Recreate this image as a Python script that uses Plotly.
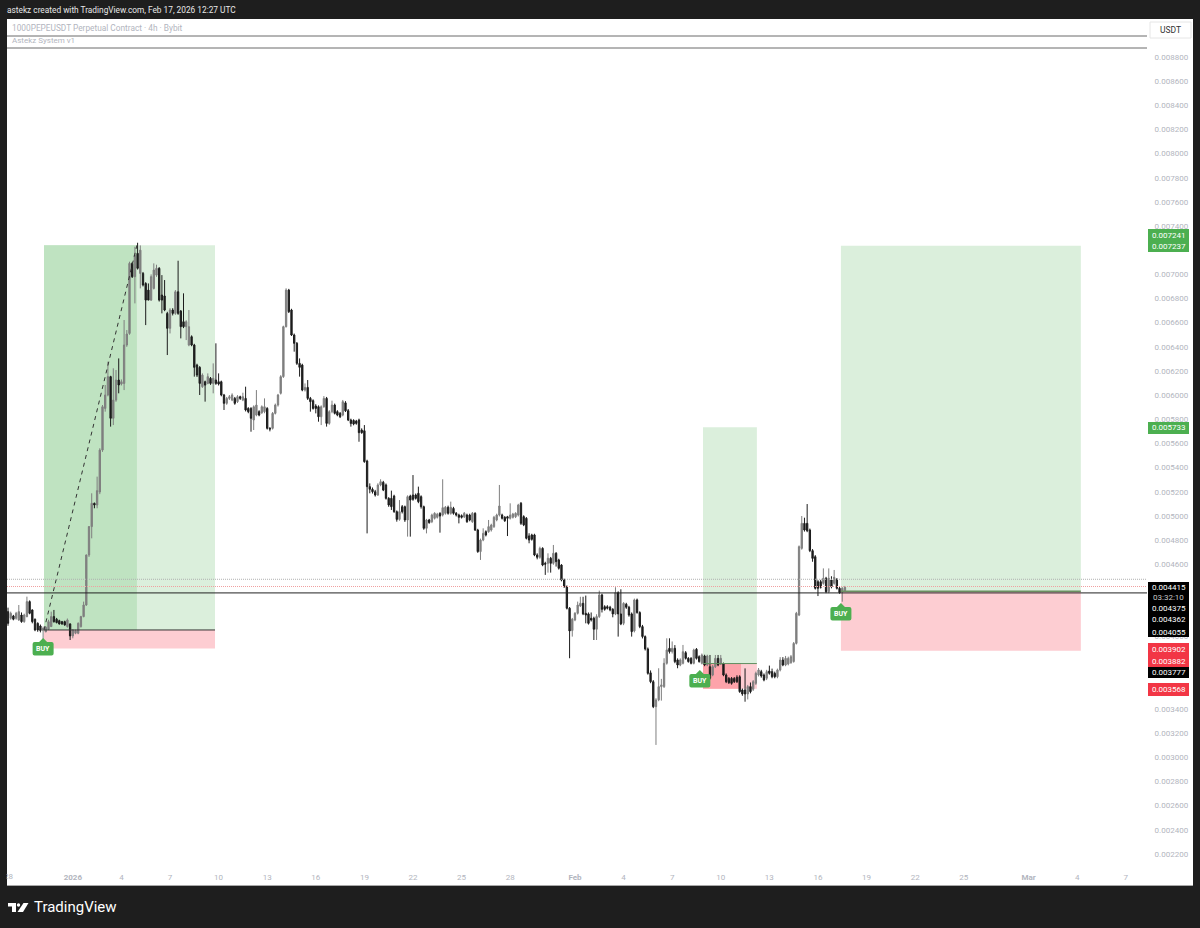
import pandas as pd
import plotly.graph_objects as go

# candle values, in millionths of USDT, 4h bars from 2025-12-28 00:00
opens = [
    4207, 4152, 4171, 4152, 4138, 4179, 4124, 4166, 4290, 4221,
    4144, 4110, 4088, 4050, 4041, 4061, 4083, 4166, 4144, 4132,
    4124, 4124, 4083, 4105, 4006, 4028, 4028, 4083, 4166, 4262,
    4676, 4911, 5104, 5090, 5198, 5545, 5890, 6001, 6153, 5808,
    5959, 6125, 6092, 6097, 6415, 6511, 7091, 6981, 7174, 7008,
    7008, 6925, 6870, 6787, 6884, 6994, 7050, 6829, 6821, 6677,
    6553, 6705, 6677, 6856, 6696, 6608, 6567, 6415, 6484, 6415,
    6249, 6230, 6070, 6111, 6097, 6139, 6097, 6125, 6111, 6111,
    6001, 5932, 5973, 5959, 5973, 5946, 5987, 5959, 5973, 5890,
    5890, 5794, 5835, 5863, 5854, 5863, 5890, 5725, 5725, 5849,
    5918, 6015, 6153, 6567, 6870, 6705, 6498, 6429, 6263, 6249,
    6042, 6064, 5973, 5954, 5910, 5904, 5821, 5904, 5973, 5766,
    5863, 5918, 5863, 5849, 5835, 5936, 5871, 5794, 5790, 5785,
    5794, 5711, 5705, 5454, 5242, 5220, 5200, 5173, 5256, 5278,
    5256, 5145, 5145, 5164, 5035, 4971, 5076, 5076, 4966, 5164,
    5173, 5173, 5187, 5159, 5076, 4897, 4966, 4952, 4980, 4988,
    5021, 5007, 5021, 5071, 5021, 5062, 5021, 5007, 5002, 4993,
    5007, 5007, 4952, 5021, 4883, 4704, 4800, 4869, 4869, 4883,
    4911, 4966, 5007, 5007, 4988, 4993, 4980, 4988, 4993, 5007,
    5104, 4994, 4980, 4834, 4842, 4842, 4676, 4657, 4731, 4607,
    4607, 4649, 4607, 4690, 4635, 4593, 4469, 4414, 4235, 4050,
    4138, 4193, 4254, 4276, 4193, 4188, 4152, 4152, 4061, 4166,
    4345, 4248, 4248, 4243, 4226, 4188, 4364, 4188, 4110, 4268,
    4243, 4188, 4047, 4304, 4199, 4083, 4000, 3898, 3700, 3627,
    3420, 3476, 3586, 3586, 3779, 3903, 3876, 3903, 3807, 3765,
    3779, 3867, 3820, 3820, 3779, 3895, 3834, 3779, 3840, 3765,
    3751, 3682, 3751, 3820, 3773, 3773, 3682, 3654, 3654, 3654,
    3663, 3668, 3558, 3558, 3525, 3586, 3564, 3613, 3682, 3710,
    3682, 3655, 3715, 3710, 3696, 3668, 3724, 3806, 3765, 3773,
    3784, 3793, 3944, 4179, 4731, 4938, 4938, 4883, 4712, 4662,
    4455, 4455, 4441, 4483, 4372, 4469, 4441, 4474, 4400, 4372, 4380,
]
highs = [
    4240, 4207, 4180, 4205, 4262, 4200, 4190, 4331, 4300, 4225,
    4150, 4118, 4100, 4083, 4085, 4140, 4207, 4221, 4155, 4140,
    4130, 4132, 4150, 4110, 4060, 4058, 4118, 4172, 4290, 4680,
    4915, 5187, 5110, 5325, 5560, 5918, 6084, 6277, 6160, 6222,
    6208, 6304, 6130, 6622, 6539, 7105, 7100, 7229, 7262, 7240,
    7020, 6935, 6925, 7000, 7091, 7080, 7060, 6994, 6953, 6690,
    6720, 6720, 6870, 7113, 6705, 6843, 6620, 6705, 6495, 6425,
    6260, 6240, 6180, 6120, 6180, 6150, 6263, 6429, 6180, 6120,
    6010, 5985, 6001, 6015, 5985, 6000, 5995, 6020, 6070, 5900,
    5900, 5915, 6042, 5875, 5915, 5973, 5900, 5735, 5860, 5930,
    6010, 6165, 6575, 6885, 6880, 6715, 6510, 6440, 6304, 6260,
    6097, 6125, 5985, 5965, 5925, 5915, 5915, 5992, 5985, 5875,
    5954, 5930, 5875, 5860, 5960, 5950, 5885, 5805, 5800, 5795,
    5805, 5725, 5752, 5465, 5269, 5235, 5215, 5270, 5303, 5290,
    5268, 5155, 5209, 5175, 5045, 5131, 5090, 5085, 5170, 5175,
    5338, 5185, 5242, 5170, 5085, 4975, 4975, 5018, 5030, 5025,
    5030, 5303, 5082, 5085, 5118, 5075, 5032, 5018, 5012, 5032,
    5018, 5018, 5032, 5030, 4893, 4812, 4897, 4880, 4966, 4935,
    5000, 5018, 5256, 5018, 4998, 5000, 5104, 5025, 5030, 5100,
    5115, 5005, 4990, 4856, 4852, 4852, 4690, 4745, 4740, 4620,
    4690, 4660, 4759, 4700, 4645, 4600, 4480, 4424, 4245, 4155,
    4203, 4290, 4330, 4330, 4340, 4200, 4200, 4165, 4185, 4381,
    4355, 4260, 4260, 4255, 4236, 4409, 4375, 4392, 4285, 4280,
    4255, 4200, 4315, 4315, 4210, 4097, 4010, 3910, 3720, 3640,
    3490, 3738, 3650, 3821, 3986, 3986, 3960, 3930, 3820, 3820,
    3931, 3880, 3830, 3830, 3900, 3905, 3845, 3860, 3850, 3850,
    3848, 3765, 3848, 3848, 3848, 3785, 3695, 3665, 3665, 3665,
    3680, 3680, 3570, 3737, 3600, 3620, 3640, 3710, 3740, 3725,
    3695, 3725, 3760, 3735, 3710, 3735, 3830, 3830, 3840, 3834,
    3848, 3955, 4205, 4755, 4999, 4985, 5098, 4895, 4725, 4675,
    4468, 4470, 4565, 4495, 4565, 4500, 4552, 4485, 4412, 4410, 4420,
]
lows = [
    4090, 4140, 4135, 4140, 4130, 4115, 4115, 4160, 4185, 4110,
    4045, 4040, 4035, 3972, 4035, 4055, 4080, 4116, 4110, 4100,
    4098, 4090, 4075, 3972, 3986, 4020, 4020, 4075, 4160, 4255,
    4660, 4814, 5063, 5063, 5180, 5530, 5863, 5990, 5739, 5752,
    5945, 6015, 6080, 6042, 6400, 6500, 6970, 6760, 7040, 6884,
    6900, 6580, 6787, 6780, 6875, 6980, 6775, 6677, 6695, 6332,
    6511, 6660, 6665, 6665, 6470, 6555, 6456, 6405, 6405, 6153,
    6150, 6001, 6060, 5946, 6090, 6085, 6015, 6085, 6080, 5990,
    5877, 5920, 5960, 5950, 5920, 5935, 5960, 5950, 5865, 5850,
    5697, 5711, 5825, 5825, 5845, 5850, 5715, 5700, 5715, 5840,
    5905, 6005, 6143, 6560, 6680, 6490, 6360, 6250, 6153, 6032,
    6030, 5960, 5863, 5880, 5849, 5780, 5752, 5895, 5739, 5755,
    5850, 5840, 5825, 5810, 5825, 5860, 5785, 5739, 5750, 5755,
    5614, 5680, 5440, 4855, 5187, 5185, 5160, 5165, 5245, 5205,
    5135, 5075, 5049, 5025, 4952, 4960, 5020, 4950, 4828, 4828,
    5125, 5135, 5105, 5060, 4885, 4855, 4935, 4940, 4970, 4978,
    4861, 4995, 5010, 5010, 5010, 5010, 4995, 4938, 4978, 4982,
    4942, 4955, 4942, 4875, 4694, 4635, 4790, 4830, 4860, 4870,
    4900, 4955, 4995, 4970, 4950, 4833, 4970, 4978, 4982, 4995,
    4925, 4915, 4805, 4773, 4795, 4666, 4640, 4645, 4583, 4511,
    4530, 4530, 4595, 4580, 4555, 4458, 4404, 4225, 3821, 4000,
    4128, 4183, 4245, 4178, 4110, 4100, 4125, 3972, 3972, 4155,
    4200, 4215, 4225, 4210, 4160, 4178, 4000, 4095, 4095, 4230,
    4165, 4000, 4035, 4190, 4070, 3985, 3885, 3685, 3614, 3408,
    3103, 3465, 3470, 3575, 3768, 3860, 3860, 3780, 3738, 3755,
    3770, 3810, 3785, 3770, 3770, 3810, 3785, 3770, 3755, 3755,
    3645, 3672, 3740, 3755, 3765, 3672, 3615, 3608, 3602, 3616,
    3616, 3535, 3510, 3461, 3480, 3530, 3550, 3600, 3670, 3660,
    3630, 3640, 3685, 3655, 3655, 3655, 3712, 3755, 3755, 3762,
    3775, 3785, 3935, 4170, 4720, 4870, 4865, 4700, 4620, 4390,
    4336, 4398, 4430, 4360, 4360, 4400, 4430, 4390, 4355, 4289, 4370,
]
closes = [
    4110, 4193, 4144, 4193, 4207, 4124, 4179, 4290, 4193, 4124,
    4055, 4055, 4050, 4069, 4077, 4124, 4166, 4124, 4116, 4105,
    4105, 4097, 4138, 4006, 4055, 4050, 4110, 4166, 4262, 4676,
    4911, 5104, 5090, 5209, 5545, 5904, 6001, 6153, 5808, 5959,
    6125, 6084, 6111, 6415, 6506, 7091, 6981, 7160, 7050, 7201,
    6912, 6787, 6787, 6981, 7036, 7050, 6787, 6787, 6705, 6553,
    6705, 6677, 6856, 6677, 6567, 6567, 6608, 6567, 6415, 6230,
    6166, 6097, 6166, 6083, 6153, 6097, 6139, 6097, 6092, 6001,
    5932, 5973, 5987, 6001, 5932, 5987, 5973, 5987, 5877, 5863,
    5808, 5904, 5918, 5835, 5904, 5904, 5725, 5719, 5849, 5918,
    6001, 6153, 6567, 6870, 6691, 6498, 6429, 6263, 6230, 6042,
    6064, 5973, 5946, 5890, 5890, 5821, 5904, 5973, 5766, 5863,
    5918, 5849, 5835, 5821, 5946, 5870, 5794, 5766, 5761, 5766,
    5689, 5689, 5449, 5242, 5220, 5200, 5173, 5256, 5283, 5214,
    5145, 5090, 5076, 5035, 4971, 5035, 5035, 4966, 5159, 5131,
    5137, 5145, 5118, 5076, 4897, 4966, 4944, 5007, 5021, 5013,
    4999, 5068, 5071, 5021, 5071, 5021, 5007, 4988, 4988, 5021,
    4952, 4966, 5021, 4883, 4704, 4800, 4855, 4842, 4911, 4924,
    4988, 5007, 5082, 4980, 4960, 4980, 5007, 5015, 5021, 5090,
    4938, 4925, 4814, 4800, 4806, 4676, 4657, 4731, 4593, 4600,
    4649, 4607, 4690, 4621, 4566, 4469, 4414, 4235, 4047, 4144,
    4193, 4262, 4276, 4188, 4179, 4110, 4138, 4061, 4166, 4345,
    4226, 4226, 4235, 4221, 4188, 4364, 4188, 4105, 4276, 4243,
    4179, 4041, 4304, 4199, 4083, 4000, 3898, 3696, 3627, 3420,
    3476, 3586, 3600, 3779, 3890, 3876, 3903, 3793, 3765, 3807,
    3875, 3820, 3793, 3779, 3889, 3820, 3793, 3848, 3765, 3840,
    3655, 3751, 3820, 3765, 3820, 3682, 3627, 3619, 3613, 3627,
    3627, 3544, 3525, 3525, 3586, 3544, 3627, 3696, 3724, 3674,
    3641, 3710, 3696, 3668, 3668, 3724, 3806, 3765, 3820, 3820,
    3834, 3944, 4193, 4745, 4938, 4883, 4877, 4712, 4648, 4400,
    4400, 4408, 4483, 4372, 4483, 4414, 4491, 4400, 4364, 4400, 4408,
]

# tick labels that the price tags cover in the reference are left out
y_tick_labels = [
    "0.002200", "0.002400", "0.002600", "0.002800", "0.003000", "0.003200", "0.003400", "0.003600",
    "0.004000", "0.004600", "0.004800", "0.005000", "0.005200", "0.005400", "0.005600", "0.005800",
    "0.006000", "0.006200", "0.006400", "0.006600", "0.006800", "0.007000", "0.007400", "0.007600",
    "0.007800", "0.008000", "0.008200", "0.008400", "0.008600", "0.008800",
]
x_tick_dates = [
    "2026-01-01", "2026-01-04", "2026-01-07", "2026-01-10", "2026-01-13",
    "2026-01-16", "2026-01-19", "2026-01-22", "2026-01-25", "2026-01-28", "2026-02-01",
    "2026-02-04", "2026-02-07", "2026-02-10", "2026-02-13", "2026-02-16", "2026-02-19",
    "2026-02-22", "2026-02-25", "2026-03-01", "2026-03-04", "2026-03-07",
]
x_tick_text = [
    "<b>2026</b>", "4", "7", "10", "13", "16", "19", "22", "25", "28", "<b>Feb</b>",
    "4", "7", "10", "13", "16", "19", "22", "25", "<b>Mar</b>", "4", "7",
]

# frame of the chart panel in page pixels
W, H = 1200, 928
LEFT, RIGHT, TOP, BOTTOM, PANEL_RIGHT = 7, 1147, 19, 885, 1193

GREEN = "#4caf50"
RED = "#f23645"
GREY_TEXT = "#b2b5be"
DARK = "#1e1e1e"
FONT = "Roboto, Arial, sans-serif"

X_START, X_END = "2025-12-27 22:30", "2026-03-08 07:30"


def px(x):
    return (x - LEFT) / (RIGHT - LEFT)


def py(y):
    return (BOTTOM - y) / (BOTTOM - TOP)


def page_path(points):
    return "M " + " L ".join(f"{px(x):.5f},{py(y):.5f}" for x, y in points) + " Z"


def page_rect(x0, y0, x1, y1, **kw):
    return dict(type="rect", xref="paper", yref="paper", x0=px(x0), x1=px(x1), y0=py(y1), y1=py(y0), **kw)


def box(x0, x1, y0, y1, color):
    return dict(type="rect", xref="x", yref="y", x0=x0, x1=x1, y0=y0, y1=y1,
                fillcolor=color, line={"width": 0}, layer="below")


def level(x0, x1, y, color, width=1, dash="solid"):
    return dict(type="line", xref="x", yref="y", x0=x0, x1=x1, y0=y, y1=y,
                line={"color": color, "width": width, "dash": dash})


def page_text(x, y, text, color, size=8, anchor="left", **kw):
    return dict(xref="paper", yref="paper", x=px(x), y=py(y), text=text, showarrow=False,
                xanchor=anchor, yanchor="middle", font={"color": color, "size": size, "family": FONT}, **kw)


dates = pd.date_range("2025-12-28 00:00", periods=len(closes), freq="4h")
scale = 1e-6

fig = go.Figure(
    go.Candlestick(
        x=dates,
        open=[v * scale for v in opens],
        high=[v * scale for v in highs],
        low=[v * scale for v in lows],
        close=[v * scale for v in closes],
        increasing={"line": {"color": "#7f7f7f", "width": 1}, "fillcolor": "#7f7f7f"},
        decreasing={"line": {"color": "#1c1c1c", "width": 1}, "fillcolor": "#1c1c1c"},
        whiskerwidth=0,
        showlegend=False,
    )
)

# trade boxes
t1_start, t1_mid, t1_end = "2025-12-30 05:20", "2026-01-04 23:00", "2026-01-09 18:40"
t2_start, t2_mid, t2_end = "2026-02-08 21:40", "2026-02-11 06:00", "2026-02-12 05:30"
t3_start, t3_end = "2026-02-17 10:00", "2026-03-04 05:30"

shapes = [
    page_rect(LEFT, TOP, PANEL_RIGHT, BOTTOM, fillcolor="white", line={"width": 0}, layer="below"),
    box(t1_start, t1_end, 0.004055, 0.007241, "#dbefdc"),
    box(t1_start, t1_mid, 0.004055, 0.007241, "#bfe3c1"),
    box(t1_start, t1_end, 0.003902, 0.004055, "#fdcdd2"),
    box(t2_start, t2_end, 0.003777, 0.005733, "#dbefdc"),
    box(t2_start, t2_end, 0.003568, 0.003777, "#fdcdd2"),
    box(t2_start, t2_mid, 0.003568, 0.003777, "#fda3aa"),
    box(t3_start, t3_end, 0.004375, 0.007237, "#dbefdc"),
    box(t3_start, t3_end, 0.003882, 0.004375, "#fdcdd2"),
    level(t1_start, t1_end, 0.004055, "#333333"),
    level(t2_start, t2_end, 0.003777, "#5f8f60"),
    level(t3_start, t3_end, 0.004375, "#6b8f60", width=1.5),
    dict(type="line", xref="x", yref="y", x0=t1_start, x1=t1_mid, y0=0.004055, y1=0.007241,
         line={"color": "#333333", "width": 1, "dash": "4px,4px"}),
    level(X_START, X_END, 0.004475, "#b0b0b0", dash="1px,1px"),
    level(X_START, X_END, 0.004415, "#f0a0a0", dash="1px,1px"),
    level(X_START, X_END, 0.004362, "#222222"),
    dict(type="line", xref="paper", yref="paper", x0=0, x1=1, y0=py(36), y1=py(36), line={"color": "#6a6a6a", "width": 1}),
    dict(type="line", xref="paper", yref="paper", x0=0, x1=1, y0=py(48), y1=py(48), line={"color": "#6a6a6a", "width": 1}),
    dict(type="line", xref="paper", yref="paper", x0=0, x1=px(PANEL_RIGHT), y0=py(BOTTOM + 0.5), y1=py(BOTTOM + 0.5),
         line={"color": "#a8a8a8", "width": 1}),
    # price scale unit box
    page_rect(1150, 22, 1191, 38, fillcolor="white", line={"color": "#e6e6e6", "width": 1}),
]

# price labels stacked on the scale
for y0, y1, color in [(582, 637, "#000000"), (643, 667, RED), (667, 678, "#000000"), (683, 696, RED),
                      (229, 241, GREEN), (241, 252, GREEN), (422, 434, GREEN)]:
    shapes.append(page_rect(1148, y0, 1189, y1, fillcolor=color, line={"width": 0}))

# TradingView logo
shapes.append(dict(type="path", xref="paper", yref="paper", fillcolor="white", line={"width": 0},
                   path=page_path([(8, 903), (16, 903), (16, 912), (12, 912), (12, 906.5), (8, 906.5)])))
shapes.append(dict(type="path", xref="paper", yref="paper", fillcolor="white", line={"width": 0},
                   path=page_path([(23.5, 903), (28.5, 903), (23, 912), (17.5, 912)])))
shapes.append(dict(type="circle", xref="paper", yref="paper", fillcolor="white", line={"width": 0},
                   x0=px(16.8), x1=px(20.2), y0=py(906.7), y1=py(903.3)))

# BUY tags, anchored on price and time, drawn in pixels
buy_tags = [("2025-12-30 04:00", 0.003988), ("2026-02-08 17:00", 0.003723), ("2026-02-17 10:00", 0.004278)]
tag_path = ("M 0,0 L 4,-4 L 8.5,-4 Q 10.5,-4 10.5,-6 L 10.5,-15.5 Q 10.5,-17.5 8.5,-17.5 L -8.5,-17.5 "
            "Q -10.5,-17.5 -10.5,-15.5 L -10.5,-6 Q -10.5,-4 -8.5,-4 L -4,-4 Z")
for when, price in buy_tags:
    shapes.append(dict(type="path", xsizemode="pixel", ysizemode="pixel", xref="x", yref="y",
                       xanchor=when, yanchor=price, path=tag_path, fillcolor=GREEN, line={"width": 0}))

annotations = [
    page_text(5, 10, "astekz created with TradingView.com, Feb 17, 2026 12:27 UTC", "#e8e8e8", size=8.3),
    page_text(10, 28, "1000PEPEUSDT Perpetual Contract · 4h · Bybit", GREY_TEXT, size=8.3),
    page_text(10, 40, "Astekz System v1", GREY_TEXT, size=8),
    page_text(1170.5, 30, "USDT", "#333333", size=8.5, anchor="center"),
    page_text(32, 907, "TradingView", "#ffffff", size=15, anchor="left"),
    # the first date label is cut by the panel edge, as in the reference
    page_text(8, 876, "28", GREY_TEXT, size=8, anchor="center"),
    dict(xref="paper", yref="paper", x=0, y=py(876), xanchor="right", yanchor="middle", text=" ", showarrow=False,
         width=8, height=14, bgcolor=DARK, borderpad=0, font={"size": 8}),
]

pill_labels = ["0.007241", "0.007237", "0.005733", "0.004415", "03:32:10", "0.004375", "0.004362",
               "0.004055", "0.003902", "0.003882", "0.003777", "0.003568"]
pill_rows = [235, 247, 428, 587, 597, 608, 620, 632, 649, 661, 672, 689]
for label, row in zip(pill_labels, pill_rows):
    color = "#c8c8c8" if label == "03:32:10" else "#ffffff"
    annotations.append(page_text(1168.5, row, label, color, size=8, anchor="center"))

for when, price in buy_tags:
    annotations.append(dict(xref="x", yref="y", x=when, y=price, yshift=-11, text="<b>BUY</b>", showarrow=False,
                            font={"color": "white", "size": 7, "family": FONT}))

fig.update_layout(
    width=W,
    height=H,
    margin={"l": LEFT, "r": W - RIGHT, "t": TOP, "b": H - BOTTOM, "pad": 0},
    paper_bgcolor=DARK,
    plot_bgcolor="rgba(0,0,0,0)",
    showlegend=False,
    shapes=shapes,
    annotations=annotations,
    xaxis={
        "type": "date",
        "range": [X_START, X_END],
        "rangeslider": {"visible": False},
        "tickmode": "array",
        "tickvals": x_tick_dates,
        "ticktext": x_tick_text,
        "ticklabelposition": "inside",
        "tickfont": {"size": 8, "color": GREY_TEXT, "family": FONT},
        "ticks": "",
        "showgrid": False,
        "zeroline": False,
        "showline": False,
    },
    yaxis={
        "side": "right",
        "range": [0.001943, 0.009115],
        "tickmode": "array",
        "tickvals": [float(v) for v in y_tick_labels],
        "ticktext": y_tick_labels,
        "tickfont": {"size": 8, "color": GREY_TEXT, "family": FONT},
        "ticks": "outside",
        "ticklen": 5,
        "tickcolor": "rgba(0,0,0,0)",
        "showgrid": False,
        "zeroline": False,
        "showline": False,
    },
)

fig.write_html("out.html", config={"displayModeBar": False},
               post_script="document.body.style.margin='0';document.body.style.overflow='hidden';")
